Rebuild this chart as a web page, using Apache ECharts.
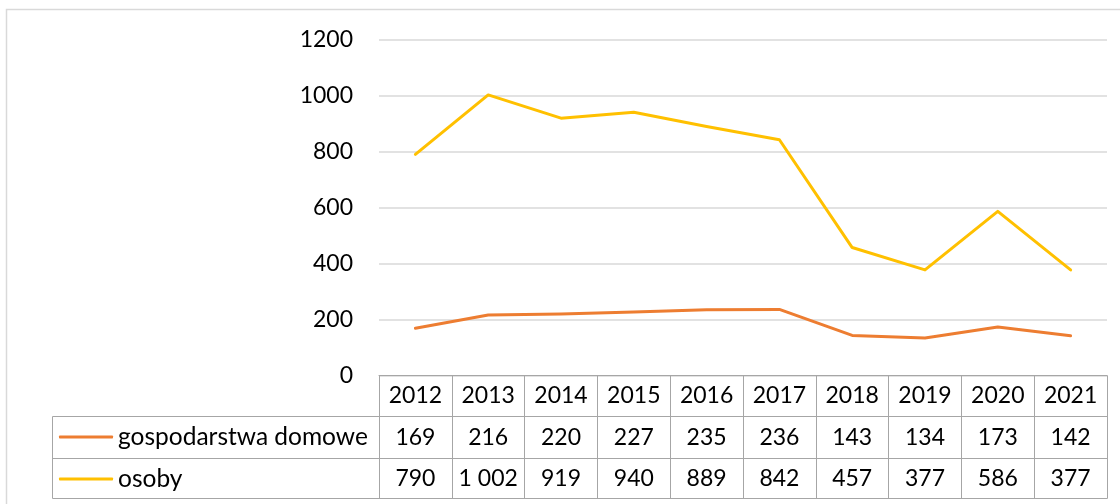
<!DOCTYPE html>
<html>
<head>
<meta charset="utf-8">
<script src="https://cdn.jsdelivr.net/npm/echarts@6/dist/echarts.min.js"></script>
<style>
html,body{margin:0;padding:0;background:#fff;}
#c{width:1120px;height:504px;}
</style>
</head>
<body>
<div id="c"></div>
<script>
const years = ['2012','2013','2014','2015','2016','2017','2018','2019','2020','2021'];
const households = [169,216,220,227,235,236,143,134,173,142];
const persons = [790,1002,919,940,889,842,457,377,586,377];
const seriesNames = ['gospodarstwa domowe','osoby'];
const yTicks = [0,200,400,600,800,1000,1200];

const FONT = 'Lato';
const TXT = '#000';
const BORDER = '#a6a6a6';
const GRID = {left:379, right:13, top:39.5, bottom:128.5};
const ROW1 = 41, ROW2 = 83, ROW3 = 123; // table row line offsets below the plot

function fmt(v){ return String(v).replace(/\B(?=(\d{3})+(?!\d))/g,' '); }

const chart = echarts.init(document.getElementById('c'), null, {renderer:'canvas'});
const plotBottom = 504 - GRID.bottom;
const labelStyle = {fontFamily:FONT, fontSize:23, color:TXT};
const legendText = {fontFamily:FONT, fontSize:24.5, color:TXT};

const option = {
  animation:false,
  backgroundColor:'#fff',
  grid:GRID,
  legend:[
    {data:[seriesNames[0]], left:59, top:plotBottom + ROW1 + 8, padding:0, itemWidth:54, itemHeight:3, icon:'roundRect', textStyle:legendText},
    {data:[seriesNames[1]], left:59, top:plotBottom + ROW2 + 8, padding:0, itemWidth:54, itemHeight:3, icon:'roundRect', textStyle:legendText}
  ],
  xAxis:[
    {type:'category', data:years, position:'bottom', boundaryGap:true,
     axisLine:{show:true, lineStyle:{color:BORDER, width:1}},
     axisTick:{show:true, length:ROW3, lineStyle:{color:BORDER, width:1}},
     axisLabel:Object.assign({margin:20, verticalAlign:'middle', interval:0}, labelStyle),
     splitLine:{show:false}},
    {type:'category', data:years, position:'bottom', offset:ROW1, boundaryGap:true,
     axisLine:{show:true, lineStyle:{color:BORDER, width:1}},
     axisTick:{show:false},
     axisLabel:Object.assign({margin:21, verticalAlign:'middle', interval:0, formatter:(v,i)=>fmt(households[i])}, labelStyle)},
    {type:'category', data:years, position:'bottom', offset:ROW2, boundaryGap:true,
     axisLine:{show:true, lineStyle:{color:BORDER, width:1}},
     axisTick:{show:false},
     axisLabel:Object.assign({margin:20, verticalAlign:'middle', interval:0, formatter:(v,i)=>fmt(persons[i])}, labelStyle)},
    {type:'category', data:years, position:'bottom', offset:ROW3, boundaryGap:true,
     axisLine:{show:true, lineStyle:{color:BORDER, width:1}},
     axisTick:{show:false}, axisLabel:{show:false}}
  ],
  yAxis:{type:'value', min:yTicks[0], max:yTicks[yTicks.length-1], interval:200,
    axisLine:{show:false}, axisTick:{show:false},
    axisLabel:Object.assign({margin:26, formatter:(v)=>String(v)}, labelStyle),
    splitLine:{show:true, lineStyle:{color:'#d9d9d9', width:1.5}}},
  series:[
    {name:seriesNames[0], type:'line', data:households, showSymbol:false, symbol:'none',
     lineStyle:{color:'#ED7D31', width:3, cap:'round', join:'round'}, itemStyle:{color:'#ED7D31'}, z:3},
    {name:seriesNames[1], type:'line', data:persons, showSymbol:false, symbol:'none',
     lineStyle:{color:'#FFC000', width:3, cap:'round', join:'round'}, itemStyle:{color:'#FFC000'}, z:3}
  ],
  graphic:[
    {type:'rect', shape:{x:6.5, y:9.5, width:1300, height:700}, style:{fill:'none', stroke:'#d9d9d9', lineWidth:1.5}, silent:true, z:-1},
    {type:'line', shape:{x1:52.5, y1:plotBottom+ROW1, x2:GRID.left, y2:plotBottom+ROW1}, style:{stroke:BORDER, lineWidth:1}},
    {type:'line', shape:{x1:52.5, y1:plotBottom+ROW2, x2:GRID.left, y2:plotBottom+ROW2}, style:{stroke:BORDER, lineWidth:1}},
    {type:'line', shape:{x1:52.5, y1:plotBottom+ROW3, x2:GRID.left, y2:plotBottom+ROW3}, style:{stroke:BORDER, lineWidth:1}},
    {type:'line', shape:{x1:52.5, y1:plotBottom+ROW1, x2:52.5, y2:plotBottom+ROW3}, style:{stroke:BORDER, lineWidth:1}}
  ]
};
chart.setOption(option);
</script>
</body>
</html>
